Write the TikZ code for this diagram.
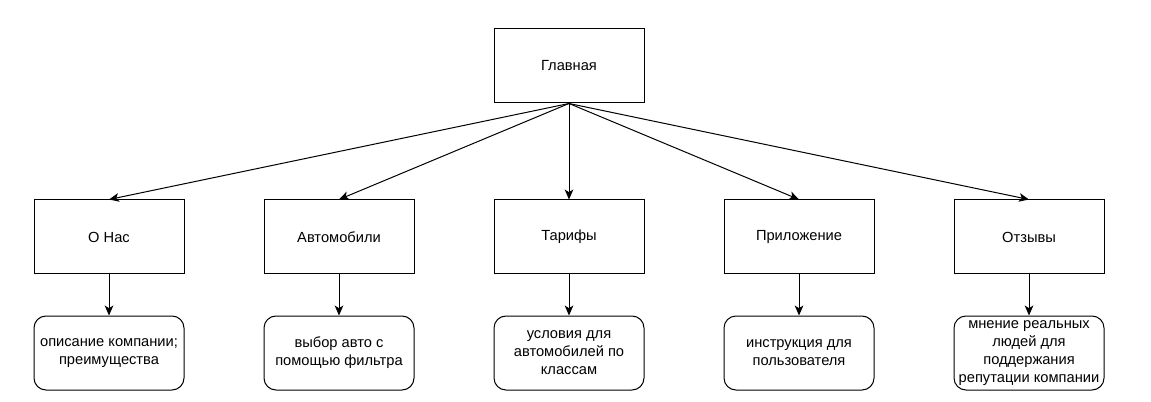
\documentclass[tikz,border=0pt]{standalone}
\usepackage{fontspec}
\setmainfont{Liberation Sans}
\usetikzlibrary{arrows.meta}
\begin{document}
\begin{tikzpicture}[x=0.75pt,y=-0.75pt,
  box/.style={draw,line width=0.75pt,minimum width=112.5pt,minimum height=55.5pt,inner sep=0pt,font=\fontsize{11pt}{13.5pt}\selectfont,align=center},
  rbox/.style={box,rounded corners=9pt},
  conn/.style={line width=0.75pt,-{Stealth[length=7.5pt,width=6.5pt,inset=2pt]}}]
\useasboundingbox (0,0) rectangle (1151,402);
\node[box] (main) at (569,66) {Главная};
\node[box] (b1) at (109,237) {О Нас};
\node[box] (b2) at (339,237) {Автомобили};
\node[box] (b3) at (569,237) {Тарифы};
\node[box] (b4) at (799,237) {Приложение};
\node[box] (b5) at (1029,237) {Отзывы};
\node[rbox] (c1) at (109,353) {описание компании;\\преимущества};
\node[rbox] (c2) at (339,353) {выбор авто с\\помощью фильтра};
\node[rbox] (c3) at (569,353) {условия для\\автомобилей по\\классам};
\node[rbox] (c4) at (799,353) {инструкция для\\пользователя};
\node[rbox] (c5) at (1029,353) {мнение реальных\\людей для\\поддержания\\репутации компании};
\foreach \i in {1,...,5}{
  \draw[conn] (main.south) -- (b\i.north);
  \draw[conn] (b\i.south) -- (c\i.north);
}
\end{tikzpicture}
\end{document}
